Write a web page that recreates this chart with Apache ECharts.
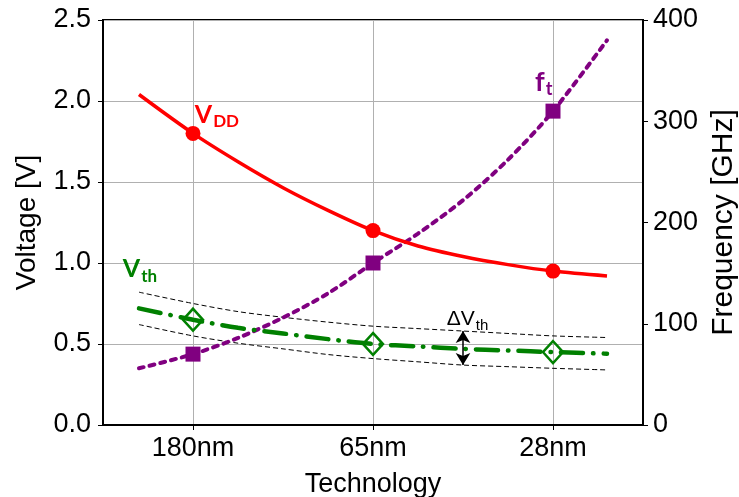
<!DOCTYPE html>
<html>
<head>
<meta charset="utf-8">
<script src="https://cdn.jsdelivr.net/npm/echarts@6/dist/echarts.min.js"></script>
<style>
  html, body { margin: 0; padding: 0; background: #ffffff; }
  #chart { width: 739px; height: 497px; }
</style>
</head>
<body>
<div id="chart"></div>
<script>
// Technology nodes and their measured values
const technologies = ['180nm', '65nm', '28nm'];
const nodePos = [0, 1, 2];
const vddNodes = [1.80, 1.20, 0.95];   // supply voltage [V]
const ftNodes = [70, 160, 310];        // transit frequency [GHz]
const vthNodes = [0.65, 0.50, 0.45];   // threshold voltage [V]

// Trend curves sampled along the technology axis
const curveX = [-0.3, 0, 0.25, 0.5, 0.75, 1, 1.25, 1.5, 1.75, 2, 2.3];
const vddCurve = [2.04, 1.80, 1.625, 1.465, 1.325, 1.20, 1.105, 1.04, 0.99, 0.95, 0.92];
const ftCurve = [56, 70, 86, 106, 130, 160, 189, 222, 262, 310, 380];
const vthCurve = [0.72, 0.65, 0.60, 0.565, 0.53, 0.50, 0.485, 0.47, 0.46, 0.45, 0.44];
const vthUpper = [0.82, 0.75, 0.70, 0.665, 0.635, 0.61, 0.595, 0.58, 0.565, 0.55, 0.54];
const vthLower = [0.62, 0.55, 0.505, 0.47, 0.435, 0.41, 0.39, 0.37, 0.36, 0.35, 0.34];

// Position of the ΔVth spread indicator (index into curveX)
const deltaIdx = 7;

const FONT = '"Liberation Sans", Arial, sans-serif';
const LABEL_FONT = 'Lato, "Open Sans", sans-serif';

const chart = echarts.init(document.getElementById('chart'), null, { renderer: 'canvas' });

const pairs = (xs, ys) => xs.map((x, i) => [x, ys[i]]);

const option = {
  animation: false,
  backgroundColor: '#ffffff',
  grid: {
    left: 103, right: 96, top: 20, bottom: 72,
    outerBoundsMode: 'none', containLabel: false,
    show: true, borderColor: '#000', borderWidth: 2, backgroundColor: 'transparent'
  },
  xAxis: {
    type: 'value', min: -0.5, max: 2.5,
    name: 'Technology', nameLocation: 'middle', nameGap: 46,
    nameTextStyle: { fontSize: 27, color: '#000', fontFamily: FONT },
    axisLine: { show: true, onZero: false, lineStyle: { color: '#000', width: 2 } },
    axisTick: { show: true, customValues: nodePos, length: 5, lineStyle: { color: '#000', width: 1 } },
    axisLabel: {
      customValues: nodePos, margin: 10, fontSize: 27, color: '#000', fontFamily: FONT,
      formatter: v => technologies[nodePos.indexOf(Math.round(v))] || ''
    },
    splitLine: { show: true, lineStyle: { color: '#b0b0b0', width: 1 } }
  },
  yAxis: [
    {
      type: 'value', min: 0, max: 2.5, interval: 0.5, position: 'left',
      name: 'Voltage [V]', nameLocation: 'middle', nameGap: 62,
      nameTextStyle: { fontSize: 28, color: '#000', fontFamily: FONT },
      axisLine: { show: true, onZero: false, lineStyle: { color: '#000', width: 2 } },
      axisTick: { show: true, length: 5, lineStyle: { color: '#000', width: 1 } },
      axisLabel: { margin: 12, fontSize: 27, color: '#000', fontFamily: FONT, formatter: v => v.toFixed(1) },
      splitLine: { show: true, lineStyle: { color: '#b0b0b0', width: 1 } }
    },
    {
      type: 'value', min: 0, max: 400, interval: 100, position: 'right',
      name: 'Frequency [GHz]', nameLocation: 'middle', nameGap: 66,
      nameTextStyle: { fontSize: 30, color: '#000', fontFamily: FONT },
      axisLine: { show: true, onZero: false, lineStyle: { color: '#000', width: 2 } },
      axisTick: { show: true, length: 5, lineStyle: { color: '#000', width: 1 } },
      axisLabel: { margin: 10, fontSize: 27, color: '#000', fontFamily: FONT },
      splitLine: { show: false }
    }
  ],
  series: [
    {
      name: 'Vth upper', type: 'line', smooth: 0.3, symbol: 'none',
      data: pairs(curveX, vthUpper),
      lineStyle: { color: '#000', width: 1, type: [5, 3] },
      markLine: {
        silent: true, symbol: ['arrow', 'arrow'], symbolSize: [11, 12],
        label: { show: false },
        lineStyle: { color: '#000', width: 1.5, type: 'solid' },
        data: [[
          { coord: [curveX[deltaIdx], vthUpper[deltaIdx]] },
          { coord: [curveX[deltaIdx], vthLower[deltaIdx]] }
        ]]
      }
    },
    {
      name: 'Vth lower', type: 'line', smooth: 0.3, symbol: 'none',
      data: pairs(curveX, vthLower),
      lineStyle: { color: '#000', width: 1, type: [5, 3] }
    },
    {
      name: 'ft curve', type: 'line', yAxisIndex: 1, smooth: 0.3, symbol: 'none',
      data: pairs(curveX, ftCurve),
      lineStyle: { color: '#800080', width: 4, type: [5, 6], cap: 'round' }
    },
    {
      name: 'Vth curve', type: 'line', smooth: 0.3, symbol: 'none',
      data: pairs(curveX, vthCurve),
      lineStyle: { color: '#008000', width: 4.5, type: [22, 10, 0.5, 10], cap: 'round' }
    },
    {
      name: 'VDD curve', type: 'line', smooth: 0.3, symbol: 'none',
      data: pairs(curveX, vddCurve),
      lineStyle: { color: '#ff0000', width: 3.5 }
    },
    {
      name: 'VDD', type: 'scatter', symbol: 'circle', symbolSize: 15, z: 5,
      data: pairs(nodePos, vddNodes),
      itemStyle: { color: '#ff0000', opacity: 1 }
    },
    {
      name: 'ft', type: 'scatter', yAxisIndex: 1, symbol: 'rect', symbolSize: 15, z: 5,
      data: pairs(nodePos, ftNodes),
      itemStyle: { color: '#800080', opacity: 1 }
    },
    {
      name: 'Vth', type: 'scatter', symbol: 'diamond', symbolSize: [20, 22], z: 5,
      data: pairs(nodePos, vthNodes),
      itemStyle: { color: 'rgba(255,255,255,0)', borderColor: '#008000', borderWidth: 2.5, opacity: 1 }
    }
  ]
};

chart.setOption(option);

// Text annotations with subscripts, anchored at data coordinates (baseline-left)
const measureCtx = document.createElement('canvas').getContext('2d');
function textWidth(text, size, weight, family) {
  measureCtx.font = weight + ' ' + size + 'px ' + family;
  return measureCtx.measureText(text).width;
}

const annotations = [
  { at: [0.01, 1.86], main: 'V', sub: 'DD', color: '#ff0000', size: 25, subSize: 17, drop: 4, weight: 'bold', family: LABEL_FONT },
  { at: [1.90, 2.06], main: 'f', sub: 't', color: '#800080', size: 27, subSize: 18, drop: 4, weight: 'bold', family: LABEL_FONT },
  { at: [-0.39, 0.91], main: 'V', sub: 'th', color: '#008000', size: 25, subSize: 17, drop: 5, weight: 'bold', family: LABEL_FONT },
  { at: [1.41, 0.605], main: 'ΔV', sub: 'th', color: '#000000', size: 21, subSize: 15, drop: 4, weight: 'normal', family: FONT }
];

const graphics = [];
annotations.forEach(a => {
  const p = chart.convertToPixel({ xAxisIndex: 0, yAxisIndex: 0 }, a.at);
  const w = textWidth(a.main, a.size, a.weight, a.family);
  graphics.push({
    type: 'text', z: 10,
    style: {
      text: a.main, x: p[0], y: p[1] + a.size * 0.15,
      align: 'left', verticalAlign: 'bottom',
      fill: a.color, font: a.weight + ' ' + a.size + 'px ' + a.family
    }
  });
  graphics.push({
    type: 'text', z: 10,
    style: {
      text: a.sub, x: p[0] + w + 1, y: p[1] + a.drop + a.subSize * 0.15,
      align: 'left', verticalAlign: 'bottom',
      fill: a.color, font: a.weight + ' ' + a.subSize + 'px ' + a.family
    }
  });
});

chart.setOption({ graphic: graphics });
</script>
</body>
</html>
